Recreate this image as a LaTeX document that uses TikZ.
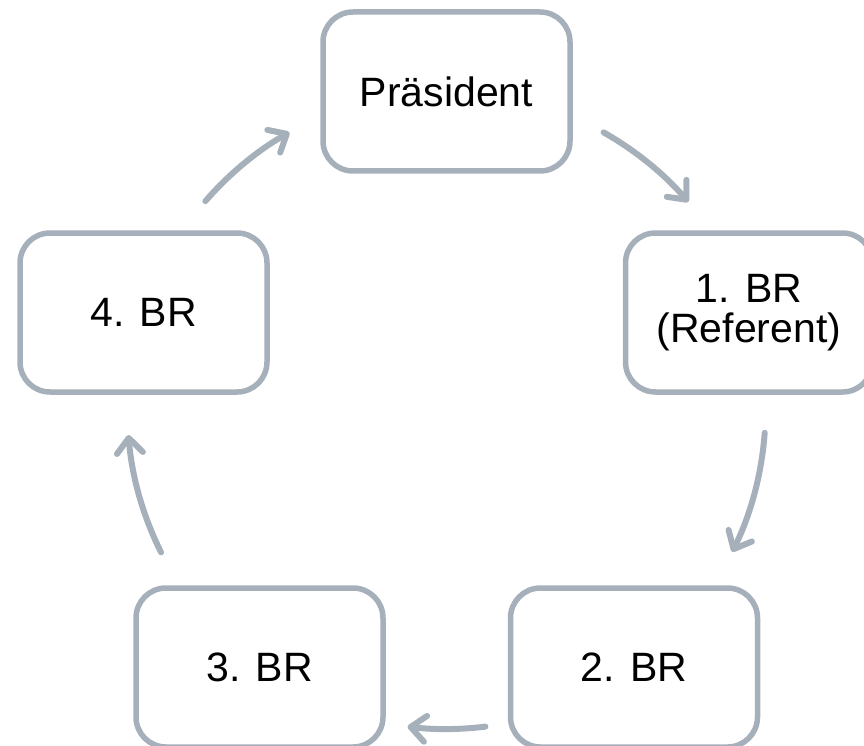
\documentclass[tikz,border=0pt]{standalone}
\usepackage{fontspec}
\setmainfont{Liberation Sans}
\usetikzlibrary{arrows.meta}
\definecolor{edgegray}{RGB}{166,176,187}
\tikzset{
  box/.style={draw=edgegray, line width=5.5pt, rounded corners=30pt, fill=white,
    minimum width=247pt, minimum height=159pt, inner sep=0pt, align=center,
    font=\fontsize{41}{40}\selectfont},
  arr/.style={draw=edgegray, line width=6pt, line cap=round,
    -{Straight Barb[length=15pt, width=26pt, line cap=round, line join=round]}}
}
\begin{document}
\begin{tikzpicture}[x=1pt,y=1pt]
\useasboundingbox (0,0) rectangle (864,-746);
\coordinate (ctr) at (446.5,-410);
\node[box] (pres) at (446.5,-91.5) {Präsident};
\node[box] (br1) at (749,-312.5) {1. BR\\(Referent)};
\node[box] (br2) at (634,-667.5) {2. BR};
\node[box] (br3) at (259.5,-667.5) {3. BR};
\node[box] (br4) at (143.5,-312.5) {4. BR};
\path (ctr) ++(60.5:319) coordinate (s1);
\path (ctr) ++(-4.1:319) coordinate (s2);
\path (ctr) ++(-83:319) coordinate (s3);
\path (ctr) ++(206.5:319) coordinate (s4);
\path (ctr) ++(139.1:319) coordinate (s5);
\draw[arr] (s1) arc[start angle=60.5, end angle=40.7, radius=319];
\draw[arr] (s2) arc[start angle=-4.1, end angle=-26.4, radius=319];
\draw[arr] (s3) arc[start angle=-83, end angle=-97, radius=319];
\draw[arr] (s4) arc[start angle=206.5, end angle=184.5, radius=319];
\draw[arr] (s5) arc[start angle=139.1, end angle=119.5, radius=319];
\end{tikzpicture}
\end{document}
